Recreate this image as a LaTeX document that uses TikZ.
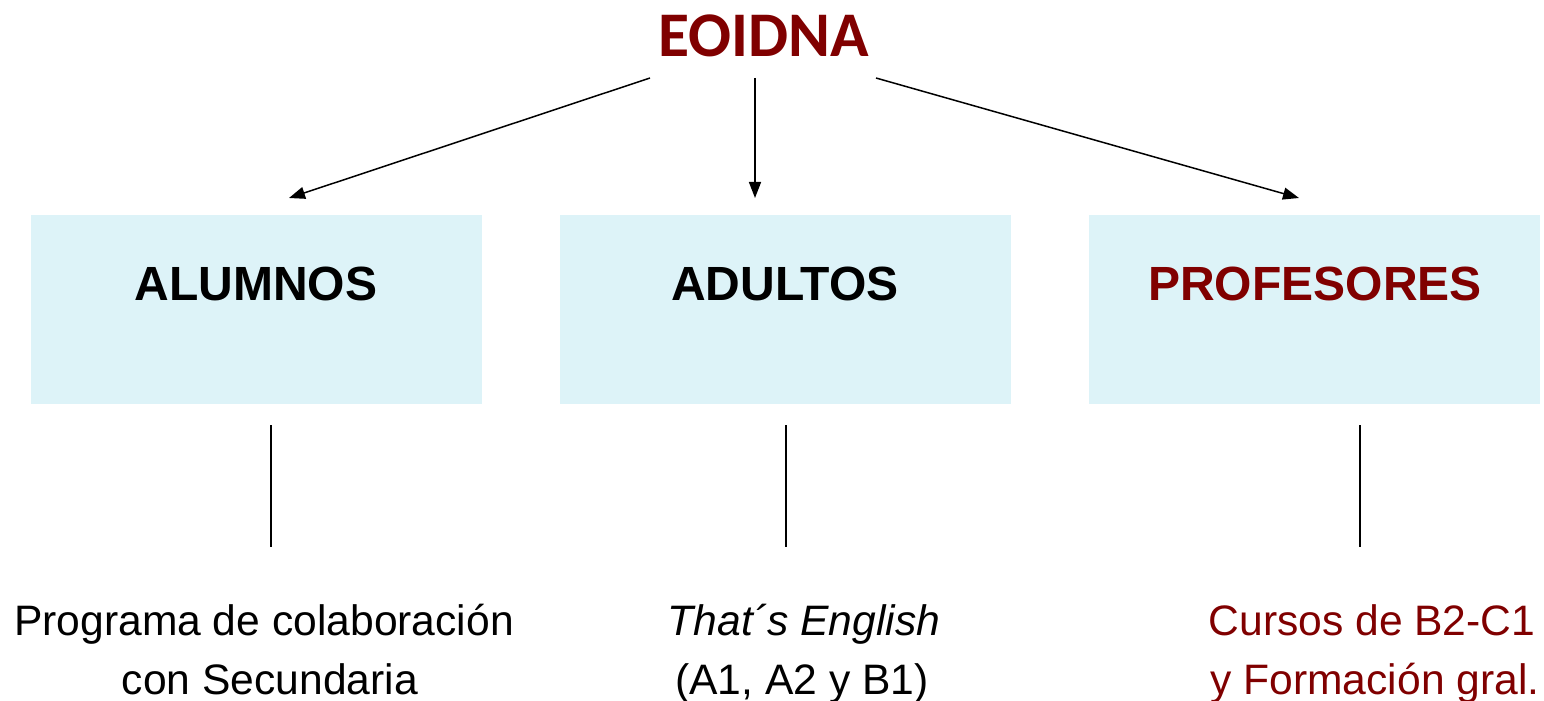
\documentclass[tikz,border=0pt]{standalone}
\usepackage{fontspec}
\setmainfont{Liberation Sans}
\newfontfamily\titlefont{Carlito}
\usetikzlibrary{arrows.meta}
\definecolor{dred}{HTML}{800000}
\definecolor{boxfill}{HTML}{DDF3F8}
\begin{document}
\begin{tikzpicture}[x=0.5pt,y=-0.5pt,
  catbox/.style={fill=boxfill,draw=none,minimum width=225.5pt,minimum height=94.5pt,inner sep=0pt,anchor=north west},
  cattext/.style={font=\fontsize{24}{28}\selectfont\bfseries,anchor=base,inner sep=0pt},
  bottext/.style={font=\fontsize{21.3}{26}\selectfont,anchor=base,inner sep=0pt},
  arr/.style={line width=0.75pt,-{Triangle[length=8pt,width=6pt]}},
  stem/.style={line width=0.6pt}]
\useasboundingbox (0,0) rectangle (1544,701);
\node[font=\titlefont\fontsize{31.8}{36}\selectfont\bfseries,text=dred,anchor=base,inner sep=0pt] (title) at (764,57) {EOIDNA};
\node[catbox] (bA) at (31,215) {};
\node[catbox] (bB) at (560,215) {};
\node[catbox] (bC) at (1089,215) {};
\node[cattext] (tA) at (256,300) {ALUMNOS};
\node[cattext] (tB) at (785,300) {ADULTOS};
\node[cattext,text=dred] (tC) at (1315,300) {PROFESORES};
\coordinate (sA) at (650,78);
\coordinate (sB) at (755,78);
\coordinate (sC) at (876,78);
\coordinate (eA) at (289,198);
\coordinate (eB) at (755,198);
\coordinate (eC) at (1299,198);
\draw[arr] (sA) -- (eA);
\draw[arr] (sB) -- (eB);
\draw[arr] (sC) -- (eC);
\coordinate (lA1) at (271,425); \coordinate (lA2) at (271,547);
\coordinate (lB1) at (786,425); \coordinate (lB2) at (786,547);
\coordinate (lC1) at (1360,425); \coordinate (lC2) at (1360,547);
\draw[stem] (lA1) -- (lA2);
\draw[stem] (lB1) -- (lB2);
\draw[stem] (lC1) -- (lC2);
\node[bottext] (pA1) at (264,635) {Programa de colaboración};
\node[bottext] (pA2) at (270,694) {con Secundaria};
\node[bottext] (pB1) at (804,635) {\itshape That´s English};
\node[bottext] (pB2) at (802,694) {(A1, A2 y B1)};
\node[bottext,text=dred] (pC1) at (1372,635) {Cursos de B2-C1};
\node[bottext,text=dred] (pC2) at (1375,694) {y Formación gral.};
\end{tikzpicture}
\end{document}
